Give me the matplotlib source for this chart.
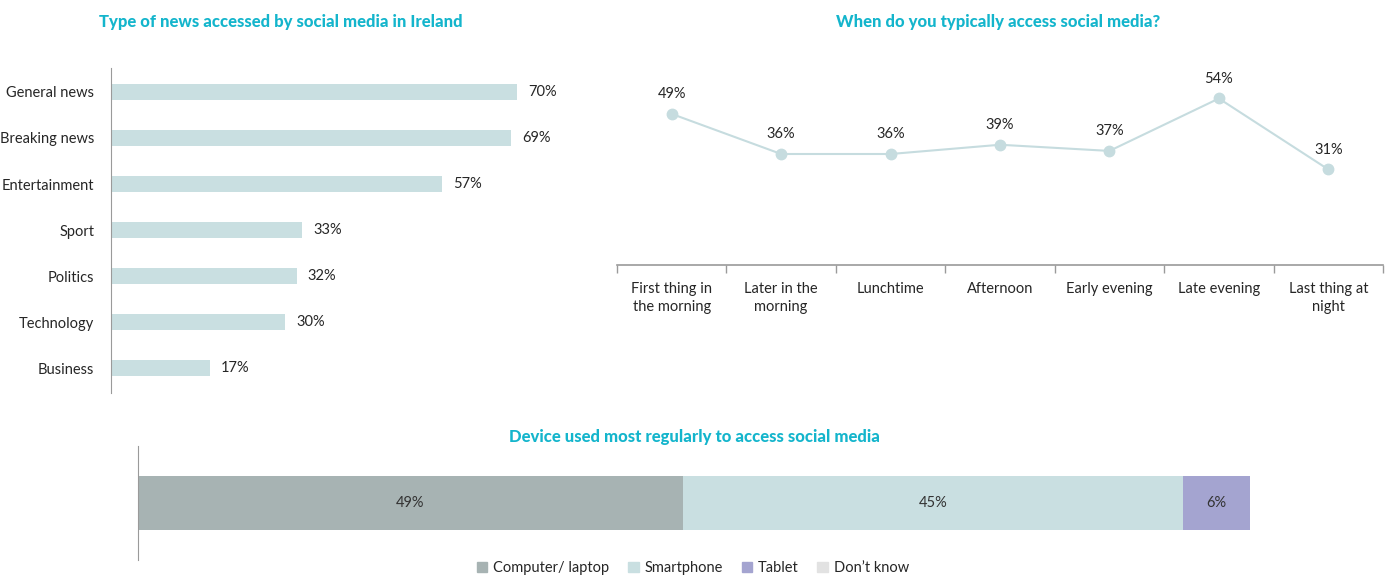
import matplotlib
matplotlib.use("Agg")
import matplotlib.pyplot as plt
from matplotlib.patches import Patch

plt.rcParams['font.family'] = ['Lato', 'DejaVu Sans']

# Тип новостей
news_types = ["General news", "Breaking news", "Entertainment", "Sport",
              "Politics", "Technology", "Business"]
news_values = [70, 69, 57, 33, 32, 30, 17]

# Время доступа
times = ["First thing in\nthe morning", "Later in the\nmorning", "Lunchtime",
         "Afternoon", "Early evening", "Late evening", "Last thing at\nnight"]
time_values = [49, 36, 36, 39, 37, 54, 31]

# Устройства
devices = ["Computer/ laptop", "Smartphone", "Tablet", "Don\u2019t know"]
device_values = [49, 45, 6, 0]
device_colors = ["#a7b3b3", "#c9dfe1", "#a4a4d0", "#e2e2e2"]

TITLE_C = "#14b5cc"
TEXT_C = "#262626"
BAR_C = "#c9dfe1"
AXIS_C = "#9a9a9a"
FS = 10.5

W, H = 1385, 577
fig = plt.figure(figsize=(W / 100, H / 100), dpi=100)


def px_axes(x0, y0, x1, y1):
    # оси по пиксельным координатам (сверху вниз)
    return fig.add_axes([x0 / W, 1 - y1 / H, (x1 - x0) / W, (y1 - y0) / H])


def title(x, y, s):
    fig.text(x / W, 1 - y / H, s, ha="center", va="center", fontsize=12,
             fontweight="black", color=TITLE_C)


# --- горизонтальные столбцы ---
ax1 = px_axes(111, 68, 111 + 5.8 * 80, 393)
ypos = range(len(news_types))
ax1.barh(ypos, news_values, height=0.35, color=BAR_C)
ax1.set_ylim(6.54, -0.52)
ax1.set_xlim(0, 80)
ax1.set_yticks(list(ypos))
ax1.set_yticklabels(news_types, fontsize=FS, color=TEXT_C)
ax1.tick_params(axis='y', length=0, pad=12)
ax1.set_xticks([])
for s in ["top", "right", "bottom"]:
    ax1.spines[s].set_visible(False)
ax1.spines["left"].set_color(AXIS_C)
for y, v in zip(ypos, news_values):
    ax1.annotate(f"{v}%", (v, y), xytext=(8, 0), textcoords="offset points",
                 va="center", ha="left", fontsize=FS, color=TEXT_C)
title(281, 22, "Type of news accessed by social media in Ireland")

# --- линия ---
ax2 = px_axes(617, 80, 1383, 265)
xpos = list(range(len(times)))
ax2.plot(xpos, time_values, color="#c6dcdf", lw=1.5, marker="o", ms=7.5,
         mfc="#c6dcdf", mec="#c6dcdf")
ax2.set_xlim(-0.5, 6.5)
ax2.set_ylim(0, 60)
ax2.set_yticks([])
ax2.set_xticks(xpos)
ax2.set_xticklabels(times, fontsize=FS, color=TEXT_C, linespacing=1.35)
ax2.tick_params(axis='x', which='major', length=0, pad=12)
ax2.set_xticks([i - 0.5 for i in range(len(times) + 1)], minor=True)
ax2.tick_params(axis='x', which='minor', length=6, color=AXIS_C, width=1)
for s in ["top", "right", "left"]:
    ax2.spines[s].set_visible(False)
ax2.spines["bottom"].set_color(AXIS_C)
ax2.spines["bottom"].set_linewidth(1.2)
for x, v in zip(xpos, time_values):
    ax2.annotate(f"{v}%", (x, v), xytext=(0, 9), textcoords="offset points",
                 va="bottom", ha="center", fontsize=FS, color=TEXT_C)
title(998, 22, "When do you typically access social media?")

# --- составной столбец ---
ax3 = px_axes(138, 446, 1250, 560)
left = 0
for name, v, c in zip(devices, device_values, device_colors):
    if v > 0:
        ax3.barh(0, v, left=left, height=0.93, color=c)
        ax3.text(left + v / 2, 0, f"{v}%", ha="center", va="center",
                 fontsize=FS, color="#333333")
    left += v
ax3.set_xlim(0, 100)
ax3.set_ylim(-1, 1)
ax3.set_xticks([])
ax3.set_yticks([])
for s in ["top", "right", "bottom"]:
    ax3.spines[s].set_visible(False)
ax3.spines["left"].set_color(AXIS_C)
title(694, 437, "Device used most regularly to access social media")

handles = [Patch(color=c, label=n) for n, c in zip(devices, device_colors)]
fig.legend(handles=handles, loc="center", bbox_to_anchor=(693 / W, 1 - 568 / H),
           ncol=4, frameon=False, fontsize=FS, handlelength=0.7,
           handleheight=0.7, handletextpad=0.4, columnspacing=1.3,
           labelcolor=TEXT_C)

fig.savefig("out.png", dpi=100)
